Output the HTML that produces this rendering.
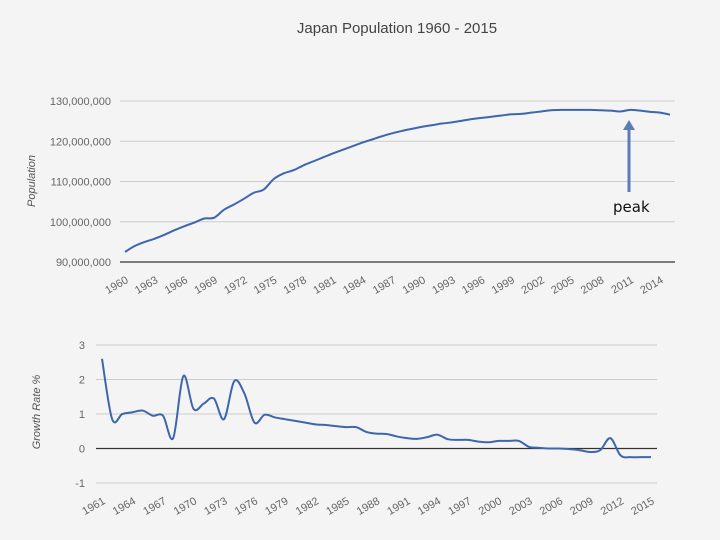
<!DOCTYPE html>
<html><head><meta charset="utf-8"><style>
html,body{margin:0;padding:0;background:#f4f4f4;}
svg{display:block;font-family:"Liberation Sans",Arial,sans-serif;}
</style></head><body>
<svg id="c" width="720" height="540">
<text x="397" y="33" text-anchor="middle" font-size="15" fill="#444">Japan Population 1960 - 2015</text>
<g id="top"></g><g id="bot"></g>
<line x1="629" y1="192" x2="629" y2="128" stroke="#5a7db3" stroke-width="3"/>
<polygon points="629,120 623,130 635,130" fill="#5a7db3"/>
<text x="613" y="212" font-size="15" fill="#111" font-family="'DejaVu Sans',sans-serif">peak</text>
</svg>
<script>
const popYears=[];for(let y=1960;y<=2015;y++)popYears.push(y);
const popValues=[92.5,94.0,95.0,95.8,96.8,97.9,98.9,99.8,100.8,101.0,103.0,104.3,105.7,107.2,108.0,110.6,112.0,112.8,114.0,115.0,116.0,117.0,117.9,118.8,119.7,120.5,121.3,122.0,122.6,123.1,123.6,124.0,124.4,124.7,125.1,125.5,125.8,126.1,126.4,126.7,126.8,127.1,127.4,127.7,127.8,127.8,127.8,127.8,127.7,127.6,127.4,127.8,127.6,127.3,127.1,126.6];
const popTicks=[90,100,110,120,130];
const popTickLabels=["90,000,000","100,000,000","110,000,000","120,000,000","130,000,000"];
const grYears=[];for(let y=1961;y<=2015;y++)grYears.push(y);
const grValues=[2.6,0.85,1.0,1.05,1.1,0.95,0.95,0.3,2.1,1.15,1.3,1.45,0.85,1.95,1.6,0.75,0.98,0.9,0.85,0.8,0.75,0.7,0.68,0.65,0.62,0.62,0.48,0.43,0.42,0.35,0.3,0.28,0.33,0.4,0.27,0.25,0.25,0.2,0.18,0.22,0.22,0.22,0.05,0.02,0.0,0.0,-0.02,-0.05,-0.1,-0.05,0.3,-0.2,-0.25,-0.25,-0.25];
const grTicks=[-1,0,1,2,3];
const NS="http://www.w3.org/2000/svg";
function mk(p,t,a){const e=document.createElementNS(NS,t);for(const k in a)e.setAttribute(k,a[k]);p.appendChild(e);return e;}
function smooth(pts){let d="M"+pts[0][0]+","+pts[0][1];for(let i=0;i<pts.length-1;i++){const p0=pts[Math.max(0,i-1)],p1=pts[i],p2=pts[i+1],p3=pts[Math.min(pts.length-1,i+2)];const c1=[p1[0]+(p2[0]-p0[0])/6,p1[1]+(p2[1]-p0[1])/6],c2=[p2[0]-(p3[0]-p1[0])/6,p2[1]-(p3[1]-p1[1])/6];d+=" C"+c1+" "+c2+" "+p2;}return d;}
function chart(g,o){
  const x=v=>o.x0+(v-o.xs)*(o.x1-o.x0)/(o.xe-o.xs);
  const y=v=>o.y0+(v-o.vmin)*(o.y1-o.y0)/(o.vmax-o.vmin);
  o.ticks.forEach((t,i)=>{
    const l=mk(g,"line",{x1:o.gl,x2:o.gr,y1:y(t),y2:y(t),stroke:t===o.base?"#333":"#ccc","stroke-width":t===o.base?1.3:1});
    
    
    const tx=mk(g,"text",{x:o.lx,y:y(t)+4,"text-anchor":"end","font-size":11,fill:"#666"});tx.textContent=o.labels[i];
    
    
  });
  o.years.forEach((yr,i)=>{ if((yr-o.xs)%3) return;
    const tx=mk(g,"text",{transform:`translate(${x(yr)+4},${o.ly}) rotate(-30)`,"text-anchor":"end","font-size":11,fill:"#666"});tx.textContent=yr;
    
    
  });
  const pts=o.years.map((yr,i)=>[+x(yr).toFixed(2),+y(o.vals[i]).toFixed(2)]);
  const p=mk(g,"path",{d:smooth(pts),fill:"none",stroke:"#3d66ad","stroke-width":2});
  
  
  const at=mk(g,"text",{transform:`translate(${o.tx},${o.ty}) rotate(-90)`,"text-anchor":"middle","font-size":11,"font-style":"italic",fill:"#555"});at.textContent=o.title;
  
  
}
chart(document.getElementById("top"),{x0:125,x1:670,xs:1960,xe:2015,y0:262,y1:101,vmin:90,vmax:130,ticks:popTicks,labels:popTickLabels,base:90,gl:120,gr:675,lx:111,ly:282,years:popYears,vals:popValues,name:'population-line',title:'Population',tx:35,ty:181});
chart(document.getElementById("bot"),{x0:102,x1:651,xs:1961,xe:2015,y0:483,y1:345,vmin:-1,vmax:3,ticks:grTicks,labels:grTicks.map(String),base:0,gl:96,gr:657,lx:85,ly:503,years:grYears,vals:grValues,name:'growth-rate-line',title:'Growth Rate %',tx:40,ty:412});
</script>
</body></html>
